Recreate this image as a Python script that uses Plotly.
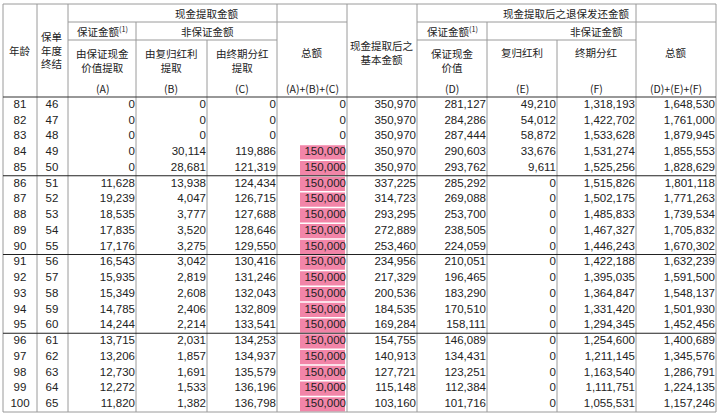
import plotly.graph_objects as go

# -----------------------
# Data
# -----------------------
ages = list(range(81, 101))
policy_years = list(range(46, 66))
col_a = [0, 0, 0, 0, 0, 11628, 19239, 18535, 17835, 17176,
         16543, 15935, 15349, 14785, 14244, 13715, 13206, 12730, 12272, 11820]
col_b = [0, 0, 0, 30114, 28681, 13938, 4047, 3777, 3520, 3275,
         3042, 2819, 2608, 2406, 2214, 2031, 1857, 1691, 1533, 1382]
col_c = [0, 0, 0, 119886, 121319, 124434, 126715, 127688, 128646, 129550,
         130416, 131246, 132043, 132809, 133541, 134253, 134937, 135579, 136196, 136798]
withdraw_total = [0, 0, 0, 150000, 150000, 150000, 150000, 150000, 150000, 150000,
                  150000, 150000, 150000, 150000, 150000, 150000, 150000, 150000, 150000, 150000]
base_amount = [350970, 350970, 350970, 350970, 350970, 337225, 314723, 293295, 272889, 253460,
               234956, 217329, 200536, 184535, 169284, 154755, 140913, 127721, 115148, 103160]
col_d = [281127, 284286, 287444, 290603, 293762, 285292, 269088, 253700, 238505, 224059,
         210051, 196465, 183290, 170510, 158111, 146089, 134431, 123251, 112384, 101716]
col_e = [49210, 54012, 58872, 33676, 9611, 0, 0, 0, 0, 0,
         0, 0, 0, 0, 0, 0, 0, 0, 0, 0]
col_f = [1318193, 1422702, 1533628, 1531274, 1525256, 1515826, 1502175, 1485833, 1467327, 1446243,
         1422188, 1395035, 1364847, 1331420, 1294345, 1254600, 1211145, 1163540, 1111751, 1055531]
surrender_total = [1648530, 1761000, 1879945, 1855553, 1828629, 1801118, 1771263, 1739534, 1705832, 1670302,
                   1632239, 1591500, 1548137, 1501930, 1452456, 1400689, 1345576, 1286791, 1224135, 1157246]

# -----------------------
# Geometry
# -----------------------
edges = [3, 37, 68, 136, 207, 277, 347, 417, 487, 557, 636, 716]
top, head_bot, bottom = 4, 97, 412
row_h = (bottom - head_bot) / len(ages)
row_y = [head_bot + row_h * (i + 0.5) for i in range(len(ages))]

GREY = "#9a9a9a"
FONT = "Liberation Sans, Arial, sans-serif"
CJK = "Noto Sans CJK SC, sans-serif"

fig = go.Figure()
shapes = []

def line(x0, y0, x1, y1, color=GREY, width=1):
    shapes.append(dict(type="line", x0=x0, y0=y0, x1=x1, y1=y1,
                       line=dict(color=color, width=width), layer="above"))

# pink highlight in withdraw total column
for y, v in zip(row_y, withdraw_total):
    if v > 0:
        shapes.append(dict(type="rect", x0=300, x1=345, y0=y - row_h / 2 + 1, y1=y + row_h / 2 - 0.5,
                           fillcolor="#f285a8", line=dict(width=0), layer="below"))

# outer border
shapes.append(dict(type="rect", x0=edges[0], x1=edges[-1], y0=top, y1=bottom,
                   line=dict(color=GREY, width=1)))
# verticals
for x in [37, 68, 277, 347, 417, 636]:
    line(x, top, x, bottom)
line(136, 22, 136, bottom)
line(207, 40, 207, bottom)
line(487, 22, 487, bottom)
line(557, 40, 557, bottom)
# header horizontals
line(68, 22, 347, 22)
line(417, 22, 716, 22)
line(68, 40, 277, 40)
line(417, 40, 636, 40)
line(3, head_bot, 716, head_bot, color="#333", width=1.2)
for k in (5, 10, 15):
    yy = head_bot + row_h * k
    line(3, yy, 716, yy, color="#222", width=1.2)

# header text
hdr = [
    (207, 13, "现金提取金额"), (566, 13, "现金提取后之退保发还金额"),
    (102, 31, "保证金额<sup>(1)</sup>"), (207, 31, "非保证金额"),
    (452, 31, "保证金额<sup>(1)</sup>"), (596, 31, "非保证金额"),
    (20, 50, "年龄"), (52, 50, "保单<br>年度<br>终结"),
    (102, 60, "由保证现金<br>价值提取"), (171, 60, "由复归红利<br>提取"),
    (242, 60, "由终期分红<br>提取"), (312, 52, "总额"),
    (382, 52, "现金提取后之<br>基本金额"),
    (452, 60, "保证现金<br>价值"), (522, 52, "复归红利"), (596, 52, "终期分红"),
    (676, 52, "总额"),
    (102, 88, "(A)"), (171, 88, "(B)"), (242, 88, "(C)"), (312, 88, "(A)+(B)+(C)"),
    (452, 88, "(D)"), (522, 88, "(E)"), (596, 88, "(F)"), (676, 88, "(D)+(E)+(F)"),
]
annotations = [dict(x=x, y=y, text=t, showarrow=False, xanchor="center", yanchor="middle",
                    font=dict(family=CJK, size=10.5, color="#222"))
               for x, y, t in hdr]

# body text
def col_text(x, vals, pos="middle left", fmt=True):
    fig.add_trace(go.Scatter(
        x=[x] * len(vals), y=row_y, mode="text",
        text=[f"{v:,}" if fmt else str(v) for v in vals],
        textposition=pos, textfont=dict(family=FONT, size=11.5, color="#222"),
        hoverinfo="skip", showlegend=False))

col_text(20, ages, "middle center", False)
col_text(52, policy_years, "middle center", False)
for right, vals in zip(edges[3:], [col_a, col_b, col_c, withdraw_total, base_amount,
                                   col_d, col_e, col_f, surrender_total]):
    col_text(right - 1, vals)

fig.update_layout(
    width=720, height=417, margin=dict(l=0, r=0, t=0, b=0),
    paper_bgcolor="white", plot_bgcolor="white",
    xaxis=dict(range=[0, 720], visible=False, fixedrange=True),
    yaxis=dict(range=[417, 0], visible=False, fixedrange=True),
    shapes=shapes, annotations=annotations,
)

fig.write_html("out.html", config={"displayModeBar": False},
               post_script="document.body.style.margin='0';document.body.style.overflow='hidden';")
